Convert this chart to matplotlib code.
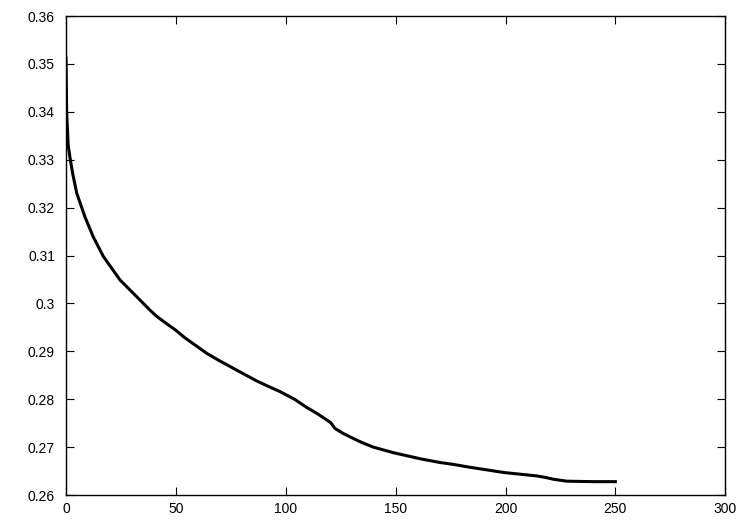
import matplotlib
matplotlib.use('Agg')
import matplotlib.pyplot as plt
from matplotlib.ticker import FuncFormatter

# values
iters = [0, 0.3, 1, 1.8, 3, 4.9, 8.6, 12.4, 17, 24.6, 33.7, 38.2, 41.3, 46, 50, 53.9,
         58.8, 64, 69.6, 74, 79.2, 86.9, 92, 97.4, 104, 109.5, 114, 118.6, 120.5,
         122.4, 126, 130.8, 135, 139.9, 149.4, 162, 170.2, 176.3, 183.9, 199.4,
         214.2, 218, 221.8, 227.9, 240, 250]
error = [0.3512, 0.340, 0.333, 0.3305, 0.3272, 0.3230, 0.3181, 0.3139, 0.3098, 0.3049,
         0.3007, 0.2986, 0.2973, 0.2957, 0.2944, 0.2929, 0.2913, 0.2896, 0.2881,
         0.2870, 0.2857, 0.2838, 0.2827, 0.2816, 0.2800, 0.2783, 0.2771, 0.2757,
         0.2751, 0.2739, 0.2729, 0.2718, 0.2709, 0.2700, 0.2688, 0.2675, 0.2668,
         0.2664, 0.2658, 0.2647, 0.2640, 0.2637, 0.2633, 0.2629, 0.2628, 0.2628]

plt.rcParams['font.family'] = ['Liberation Sans', 'DejaVu Sans']

fig = plt.figure(figsize=(7.5, 5.25), dpi=100)
ax = fig.add_axes([0.088, 0.057, 0.879, 0.9125])

ax.plot(iters, error, color='black', lw=2.2, solid_joinstyle='round')

ax.set_xlim(0, 300)
ax.set_ylim(0.26, 0.36)
ax.set_xticks(range(0, 301, 50))
ax.set_yticks([0.26 + 0.01 * i for i in range(11)])
ax.yaxis.set_major_formatter(FuncFormatter(lambda v, p: '%g' % round(v, 2)))

ax.tick_params(direction='in', length=6, width=0.8, top=True, right=True,
               labelsize=10, colors='black')
ax.tick_params(axis='y', pad=8)
ax.tick_params(axis='x', pad=5)
for s in ax.spines.values():
    s.set_linewidth(1.0)

fig.savefig('out.png', dpi=100)
